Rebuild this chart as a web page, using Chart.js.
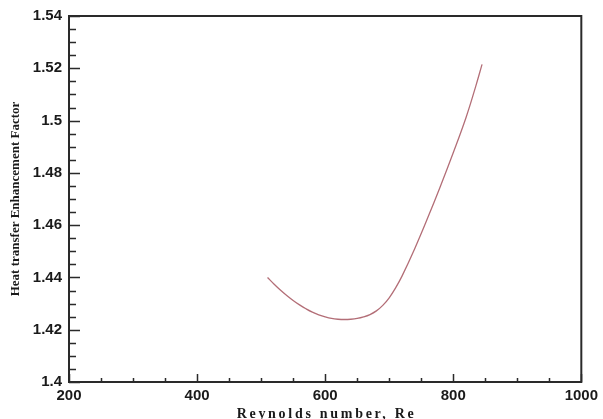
<!DOCTYPE html>
<html>
<head>
<meta charset="utf-8">
<script src="https://cdn.jsdelivr.net/npm/chart.js@4.4.0/dist/chart.umd.min.js"></script>
<style>
  html, body { margin: 0; padding: 0; background: #fff; }
  #wrap { width: 603px; height: 419px; position: relative; }
</style>
</head>
<body>
<div id="wrap"><canvas id="c" width="603" height="419"></canvas></div>
<script>
// Data
const reynolds = [510, 520, 530, 540, 550, 560, 570, 580, 590, 600, 610, 620, 630, 640, 650, 660, 670, 680, 690, 700, 710, 720, 740, 760, 780, 800, 820, 835, 845];
const enhancement = [1.4400, 1.4375, 1.4352, 1.4331, 1.4312, 1.4295, 1.4280, 1.4267, 1.4257, 1.4249, 1.4243, 1.4240, 1.4239, 1.4240, 1.4243, 1.4249, 1.4258, 1.4272, 1.4293, 1.4322, 1.4360, 1.4405, 1.4511, 1.4627, 1.4749, 1.4877, 1.5012, 1.5130, 1.5215];

const xTicks = [200, 400, 600, 800, 1000];
const xTickLabels = ['200', '400', '600', '800', '1000'];
const yTicks = [1.40, 1.42, 1.44, 1.46, 1.48, 1.50, 1.52, 1.54];
const yTickLabels = ['1.4', '1.42', '1.44', '1.46', '1.48', '1.5', '1.52', '1.54'];
const xMinorStep = 50;
const yMinorStep = 0.005;
const xTitle = 'Reynolds number, Re';
const yTitle = 'Heat transfer Enhancement Factor';

const axisColor = '#2a2a2a';

const boxTicksPlugin = {
  id: 'boxTicks',
  afterDraw(chart) {
    const ctx = chart.ctx;
    const a = chart.chartArea;
    const xs = chart.scales.x, ys = chart.scales.y;
    ctx.save();
    ctx.strokeStyle = axisColor;
    ctx.lineWidth = 2;
    ctx.strokeRect(a.left, a.top, a.right - a.left, a.bottom - a.top);
    ctx.lineWidth = 1.5;
    ctx.beginPath();
    for (let v = xs.min; v <= xs.max + 1e-9; v += xMinorStep) {
      const px = Math.round(xs.getPixelForValue(v)) + 0.5;
      const major = xTicks.some(t => Math.abs(t - v) < 1e-6);
      const len = major ? 8 : 4;
      ctx.moveTo(px, a.bottom);
      ctx.lineTo(px, a.bottom - len);
    }
    for (let i = 0; ; i++) {
      const v = ys.min + i * yMinorStep;
      if (v > ys.max + 1e-9) break;
      const py = Math.round(ys.getPixelForValue(v)) + 0.5;
      const major = yTicks.some(t => Math.abs(t - v) < 1e-6);
      const len = major ? 11 : 7;
      ctx.moveTo(a.left, py);
      ctx.lineTo(a.left + len, py);
    }
    ctx.stroke();

    // x-axis title, letter-spaced like the reference
    ctx.fillStyle = '#1a1a1a';
    ctx.font = 'bold 14px "Liberation Serif"';
    ctx.textAlign = 'left';
    ctx.textBaseline = 'alphabetic';
    const target = 177;
    const w = ctx.measureText(xTitle).width;
    const sp = Math.max(0, (target - w) / (xTitle.length - 1));
    ctx.letterSpacing = sp.toFixed(2) + 'px';
    const cx = (a.left + a.right) / 2;
    ctx.fillText(xTitle, cx - target / 2, 418);
    ctx.letterSpacing = '0px';
    ctx.restore();
  }
};

new Chart(document.getElementById('c'), {
  type: 'line',
  data: {
    datasets: [{
      data: reynolds.map((r, i) => ({ x: r, y: enhancement[i] })),
      borderColor: '#b36e77',
      borderWidth: 1.3,
      pointRadius: 0,
      fill: false,
      tension: 0.4
    }]
  },
  options: {
    responsive: false,
    animation: false,
    devicePixelRatio: 1,
    layout: { padding: { left: 0, right: 18, top: 16, bottom: 0 } },
    plugins: { legend: { display: false }, tooltip: { enabled: false } },
    scales: {
      x: {
        type: 'linear',
        min: 200, max: 1000,
        afterBuildTicks: s => { s.ticks = xTicks.map(v => ({ value: v })); },
        afterFit: s => { s.height = 37; },
        grid: { display: false, drawTicks: false },
        border: { display: false },
        ticks: {
          padding: 5,
          color: '#1a1a1a',
          font: { family: 'Liberation Sans', size: 15, weight: 'bold' },
          callback: v => xTickLabels[xTicks.indexOf(v)]
        },
        title: { display: false }
      },
      y: {
        type: 'linear',
        min: 1.4, max: 1.54,
        afterBuildTicks: s => { s.ticks = yTicks.map(v => ({ value: v })); },
        afterFit: s => { s.width = 69; },
        grid: { display: false, drawTicks: false },
        border: { display: false },
        ticks: {
          padding: 7,
          color: '#1a1a1a',
          font: { family: 'Liberation Sans', size: 15, weight: 'bold' },
          callback: v => {
            const i = yTicks.findIndex(t => Math.abs(t - v) < 1e-6);
            return yTickLabels[i];
          }
        },
        title: {
          display: true,
          text: yTitle,
          color: '#1a1a1a',
          padding: { top: 8, bottom: 0 },
          font: { family: 'Liberation Serif', size: 13, weight: 'bold' }
        }
      }
    }
  },
  plugins: [boxTicksPlugin]
});
</script>
</body>
</html>
